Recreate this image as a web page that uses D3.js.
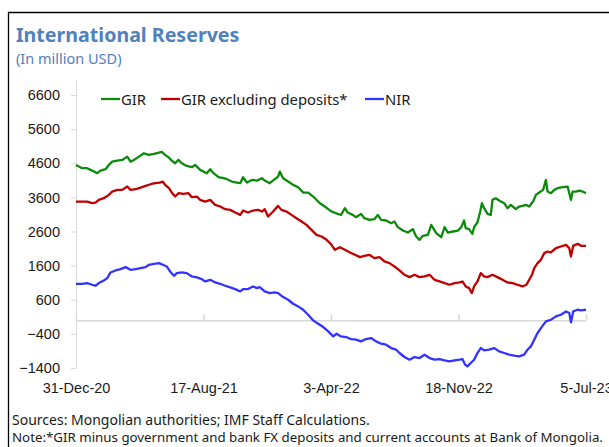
<!DOCTYPE html>
<html>
<head>
<meta charset="utf-8">
<script src="https://cdn.jsdelivr.net/npm/d3@7"></script>
<style>
  body { margin: 0; background: #fff; }
  svg { display: block; font-family: "Noto Sans", "Open Sans", sans-serif; }
  .tick text { fill: #1a1a1a; }
</style>
</head>
<body>
<svg id="chart" width="609" height="447"></svg>
<script>
// values (million USD)
var gir = [
  ["2020-12-31",4551],["2021-01-11",4455],["2021-01-20",4455],["2021-01-29",4385],["2021-02-07",4308],["2021-02-13",4385],
  ["2021-02-22",4425],["2021-02-28",4551],["2021-03-06",4648],["2021-03-15",4677],["2021-03-24",4697],["2021-04-02",4794],
  ["2021-04-08",4648],["2021-04-14",4697],["2021-04-23",4794],["2021-05-02",4892],["2021-05-11",4844],["2021-05-20",4873],
  ["2021-05-29",4911],["2021-06-03",4931],["2021-06-09",4844],["2021-06-15",4776],["2021-06-21",4677],["2021-06-27",4600],
  ["2021-07-03",4697],["2021-07-09",4600],["2021-07-18",4522],["2021-07-27",4484],["2021-08-02",4551],["2021-08-11",4405],
  ["2021-08-23",4308],["2021-08-29",4425],["2021-09-04",4308],["2021-09-13",4191],["2021-09-22",4162],["2021-09-28",4133],
  ["2021-10-07",4063],["2021-10-16",4034],["2021-10-22",4015],["2021-10-27",4191],["2021-11-03",4034],["2021-11-12",4112],
  ["2021-11-21",4092],["2021-11-30",4161],["2021-12-05",4092],["2021-12-14",4015],["2021-12-23",4132],["2021-12-29",4210],
  ["2022-01-01",4356],["2022-01-07",4161],["2022-01-16",4063],["2022-01-25",3966],["2022-02-03",3898],["2022-02-12",3741],
  ["2022-02-21",3741],["2022-03-02",3624],["2022-03-14",3429],["2022-03-23",3332],["2022-03-29",3254],["2022-04-04",3185],
  ["2022-04-15",3117],["2022-04-21",3088],["2022-04-28",3283],["2022-05-03",3156],["2022-05-12",3088],["2022-05-18",3019],
  ["2022-05-27",3117],["2022-06-02",2990],["2022-06-11",2941],["2022-06-20",2961],["2022-06-26",3088],["2022-07-02",2941],
  ["2022-07-11",2922],["2022-07-20",2844],["2022-07-26",2893],["2022-08-01",2727],["2022-08-10",2629],["2022-08-19",2570],
  ["2022-08-28",2668],["2022-09-03",2453],["2022-09-09",2356],["2022-09-15",2473],["2022-09-24",2502],["2022-09-30",2795],
  ["2022-10-09",2551],["2022-10-18",2434],["2022-10-24",2727],["2022-10-30",2570],["2022-11-08",2600],["2022-11-17",2629],
  ["2022-11-23",2727],["2022-11-28",2922],["2022-12-01",2697],["2022-12-07",2668],["2022-12-13",2532],["2022-12-16",2727],
  ["2022-12-22",2863],["2022-12-27",3185],["2022-12-30",3429],["2023-01-03",3283],["2023-01-09",3117],["2023-01-15",3088],
  ["2023-01-18",3527],["2023-01-24",3576],["2023-01-30",3507],["2023-02-08",3429],["2023-02-14",3283],["2023-02-20",3380],
  ["2023-03-01",3254],["2023-03-07",3332],["2023-03-13",3351],["2023-03-19",3380],["2023-03-25",3332],["2023-04-01",3478],
  ["2023-04-06",3673],["2023-04-12",3741],["2023-04-19",3819],["2023-04-24",4112],["2023-04-27",3771],["2023-05-03",3722],
  ["2023-05-09",3819],["2023-05-15",3868],["2023-05-24",3898],["2023-06-02",3917],["2023-06-08",3527],["2023-06-11",3771],
  ["2023-06-17",3771],["2023-06-23",3800],["2023-06-29",3771],["2023-07-05",3722]
];

var girExDeposits = [
  ["2020-12-31",3478],["2021-01-11",3478],["2021-01-20",3478],["2021-01-29",3429],["2021-02-04",3449],["2021-02-10",3527],
  ["2021-02-19",3576],["2021-02-28",3673],["2021-03-06",3771],["2021-03-15",3819],["2021-03-24",3819],["2021-04-02",3917],
  ["2021-04-08",3819],["2021-04-17",3839],["2021-04-26",3888],["2021-05-05",3937],["2021-05-14",3985],["2021-05-22",4015],
  ["2021-05-30",4034],["2021-06-05",4063],["2021-06-09",3966],["2021-06-16",3868],["2021-06-21",3741],["2021-06-27",3624],
  ["2021-07-03",3722],["2021-07-12",3702],["2021-07-21",3722],["2021-07-27",3605],["2021-08-05",3624],["2021-08-11",3527],
  ["2021-08-20",3478],["2021-08-29",3527],["2021-09-07",3380],["2021-09-16",3332],["2021-09-25",3254],["2021-10-04",3234],
  ["2021-10-13",3156],["2021-10-22",3088],["2021-10-27",3214],["2021-11-05",3156],["2021-11-14",3214],["2021-11-23",3234],
  ["2021-11-30",3185],["2021-12-05",3254],["2021-12-11",3039],["2021-12-20",3185],["2021-12-29",3351],["2022-01-04",3234],
  ["2022-01-13",3185],["2022-01-22",3088],["2022-01-31",2990],["2022-02-09",2893],["2022-02-18",2795],["2022-02-27",2649],
  ["2022-03-08",2502],["2022-03-17",2453],["2022-03-26",2356],["2022-04-04",2210],["2022-04-10",2063],["2022-04-19",2141],
  ["2022-04-28",2063],["2022-05-07",1985],["2022-05-16",1917],["2022-05-25",1849],["2022-06-02",1888],["2022-06-11",1917],
  ["2022-06-20",1819],["2022-06-29",1849],["2022-07-08",1722],["2022-07-17",1673],["2022-07-26",1575],["2022-08-04",1458],
  ["2022-08-13",1331],["2022-08-22",1263],["2022-08-31",1331],["2022-09-09",1263],["2022-09-18",1283],["2022-09-27",1331],
  ["2022-10-06",1185],["2022-10-15",1136],["2022-10-24",1088],["2022-11-02",1039],["2022-11-11",1088],["2022-11-20",1107],
  ["2022-11-25",1136],["2022-12-01",990],["2022-12-07",941],["2022-12-12",795],["2022-12-16",990],["2022-12-22",1136],
  ["2022-12-28",1380],["2023-01-03",1283],["2023-01-09",1263],["2023-01-18",1331],["2023-01-27",1263],["2023-02-05",1185],
  ["2023-02-14",1107],["2023-02-23",1088],["2023-03-04",1039],["2023-03-13",990],["2023-03-20",1039],["2023-03-25",1185],
  ["2023-03-30",1331],["2023-04-03",1527],["2023-04-09",1673],["2023-04-15",1770],["2023-04-21",1966],["2023-04-27",2014],
  ["2023-05-03",1985],["2023-05-12",2112],["2023-05-21",2161],["2023-05-30",2209],["2023-06-05",2112],["2023-06-08",1868],
  ["2023-06-12",2180],["2023-06-20",2239],["2023-06-26",2180],["2023-07-05",2180]
];

var nir = [
  ["2020-12-31",1068],["2021-01-11",1068],["2021-01-20",1088],["2021-01-29",1039],["2021-02-04",1010],["2021-02-10",1088],
  ["2021-02-19",1166],["2021-02-25",1234],["2021-03-03",1400],["2021-03-12",1458],["2021-03-21",1497],["2021-03-30",1556],
  ["2021-04-08",1478],["2021-04-17",1497],["2021-04-26",1527],["2021-05-05",1556],["2021-05-11",1624],["2021-05-20",1653],
  ["2021-05-29",1673],["2021-06-05",1624],["2021-06-12",1575],["2021-06-18",1429],["2021-06-25",1302],["2021-06-30",1380],
  ["2021-07-09",1400],["2021-07-18",1380],["2021-07-27",1283],["2021-08-05",1254],["2021-08-14",1205],["2021-08-20",1136],
  ["2021-08-29",1185],["2021-09-07",1107],["2021-09-16",1068],["2021-09-25",1010],["2021-10-04",961],["2021-10-13",912],
  ["2021-10-22",844],["2021-10-27",912],["2021-11-05",912],["2021-11-14",990],["2021-11-21",941],["2021-11-26",971],
  ["2021-12-05",844],["2021-12-14",795],["2021-12-23",814],["2021-12-29",795],["2022-01-07",678],["2022-01-16",600],
  ["2022-01-25",483],["2022-02-03",405],["2022-02-12",307],["2022-02-21",161],["2022-03-02",-5],["2022-03-11",-103],
  ["2022-03-20",-200],["2022-03-29",-327],["2022-04-07",-473],["2022-04-13",-396],["2022-04-21",-474],["2022-04-30",-493],
  ["2022-05-09",-552],["2022-05-18",-571],["2022-05-27",-620],["2022-06-05",-552],["2022-06-14",-522],["2022-06-23",-620],
  ["2022-07-02",-688],["2022-07-11",-718],["2022-07-20",-815],["2022-07-29",-864],["2022-08-04",-961],["2022-08-13",-1078],
  ["2022-08-22",-1157],["2022-08-31",-1078],["2022-09-09",-1108],["2022-09-18",-1010],["2022-09-27",-1108],["2022-10-06",-1157],
  ["2022-10-15",-1137],["2022-10-24",-1176],["2022-11-02",-1205],["2022-11-11",-1176],["2022-11-20",-1157],["2022-11-25",-1137],
  ["2022-11-30",-1303],["2022-12-04",-1352],["2022-12-10",-1254],["2022-12-16",-1157],["2022-12-22",-961],["2022-12-28",-815],
  ["2023-01-03",-883],["2023-01-12",-864],["2023-01-21",-815],["2023-01-30",-913],["2023-02-08",-961],["2023-02-17",-1010],
  ["2023-02-26",-1040],["2023-03-07",-1059],["2023-03-16",-1010],["2023-03-22",-864],["2023-03-28",-766],["2023-04-03",-571],
  ["2023-04-09",-376],["2023-04-15",-230],["2023-04-24",-34],["2023-05-03",14],["2023-05-12",112],["2023-05-21",161],
  ["2023-05-30",258],["2023-06-05",209],["2023-06-08",-64],["2023-06-12",258],["2023-06-20",307],["2023-06-26",287],
  ["2023-07-05",307]
];

var seriesNames  = ["GIR", "GIR excluding deposits*", "NIR"];
var seriesColors = ["#0b8a0b", "#c00000", "#3333ff"];
var yTicks = [-1400, -400, 600, 1600, 2600, 3600, 4600, 5600, 6600];
var xTickLabels = ["31-Dec-20", "17-Aug-21", "3-Apr-22", "18-Nov-22", "5-Jul-23"];

var parseDate = d3.timeParse("%Y-%m-%d"),
    parseLabel = d3.timeParse("%d-%b-%y");

var svg = d3.select("#chart"),
    margin = {top: 95, right: 23, bottom: 79, left: 76},
    width  = +svg.attr("width"),
    height = +svg.attr("height");

var x = d3.scaleTime()
    .domain([parseLabel(xTickLabels[0]), parseLabel(xTickLabels[xTickLabels.length - 1])])
    .range([margin.left, width - margin.right]);

var y = d3.scaleLinear()
    .domain([yTicks[0], yTicks[yTicks.length - 1]])
    .range([height - margin.bottom, margin.top]);

var axisGrey = "#d9d9d9";

//frame round the whole figure
svg.append("path")
  .attr("d", "M8.5,447 V12.5 H609")
  .attr("fill", "none")
  .attr("stroke", "#000")
  .attr("stroke-width", 1.3);

//title
svg.append("text")
  .attr("x", 16).attr("y", 42)
  .attr("fill", "#4f81bd")
  .attr("font-size", 19.6).attr("font-weight", "bold")
  .text("International Reserves");

svg.append("text")
  .attr("x", 16).attr("y", 64)
  .attr("fill", "#4f81bd")
  .attr("font-size", 14.5)
  .text("(In million USD)");

//y axis
var yAxis = svg.append("g")
  .attr("transform", "translate(" + margin.left + ",0)")
  .call(d3.axisLeft(y).tickValues(yTicks).tickFormat(d3.format("d"))
    .tickSize(5).tickPadding(11).tickSizeOuter(0));
yAxis.select(".domain").attr("d", "M0.5," + (y(yTicks[yTicks.length - 1]) - 15) + "V" + y(yTicks[0]));
yAxis.selectAll("line, .domain").attr("stroke", axisGrey);
yAxis.selectAll("text").attr("font-size", 14.5).style("font-family", "inherit");

//x axis sits on zero, ticks upwards
var xTickDates = xTickLabels.map(parseLabel);
var xAxis = svg.append("g")
  .attr("transform", "translate(0," + y(0) + ")")
  .call(d3.axisTop(x).tickValues(xTickDates).tickSize(6).tickSizeOuter(0).tickFormat(""));
xAxis.selectAll("line, .domain").attr("stroke", axisGrey).attr("stroke-width", 1.5);

//x labels at the bottom of the plot
var xLabels = svg.append("g")
  .attr("transform", "translate(0," + y(yTicks[0]) + ")")
  .call(d3.axisBottom(x).tickValues(xTickDates).tickSize(0).tickPadding(15)
    .tickFormat(function(d, i) { return xTickLabels[i]; }));
xLabels.select(".domain").remove();
xLabels.selectAll("text").attr("font-size", 14.5).style("font-family", "inherit");

//series lines
var line = d3.line()
  .x(function(d) { return x(parseDate(d[0])); })
  .y(function(d) { return y(d[1]); });

[gir, girExDeposits, nir].forEach(function(data, i) {
  svg.append("path")
    .datum(data)
    .attr("fill", "none")
    .attr("stroke", seriesColors[i])
    .attr("stroke-width", 2.3)
    .attr("stroke-linejoin", "round")
    .attr("d", line);
});

//legend
var legendX = [101, 161, 365];
seriesNames.forEach(function(name, i) {
  var g = svg.append("g").attr("transform", "translate(" + legendX[i] + ",99)");
  g.append("line")
    .attr("x1", 0).attr("x2", 19)
    .attr("stroke", seriesColors[i]).attr("stroke-width", 2.3);
  g.append("text")
    .attr("x", 20).attr("y", 5.5)
    .attr("font-size", 14.8).attr("fill", "#1a1a1a")
    .text(name);
});

//sources and note
svg.append("text")
  .attr("x", 12).attr("y", 425)
  .attr("font-size", 14).attr("fill", "#1a1a1a")
  .text("Sources: Mongolian authorities; IMF Staff Calculations.");

svg.append("text")
  .attr("x", 12).attr("y", 442)
  .attr("font-size", 13.3).attr("fill", "#1a1a1a")
  .text("Note:*GIR minus government and bank FX deposits and current accounts at Bank of Mongolia.");
</script>
</body>
</html>
